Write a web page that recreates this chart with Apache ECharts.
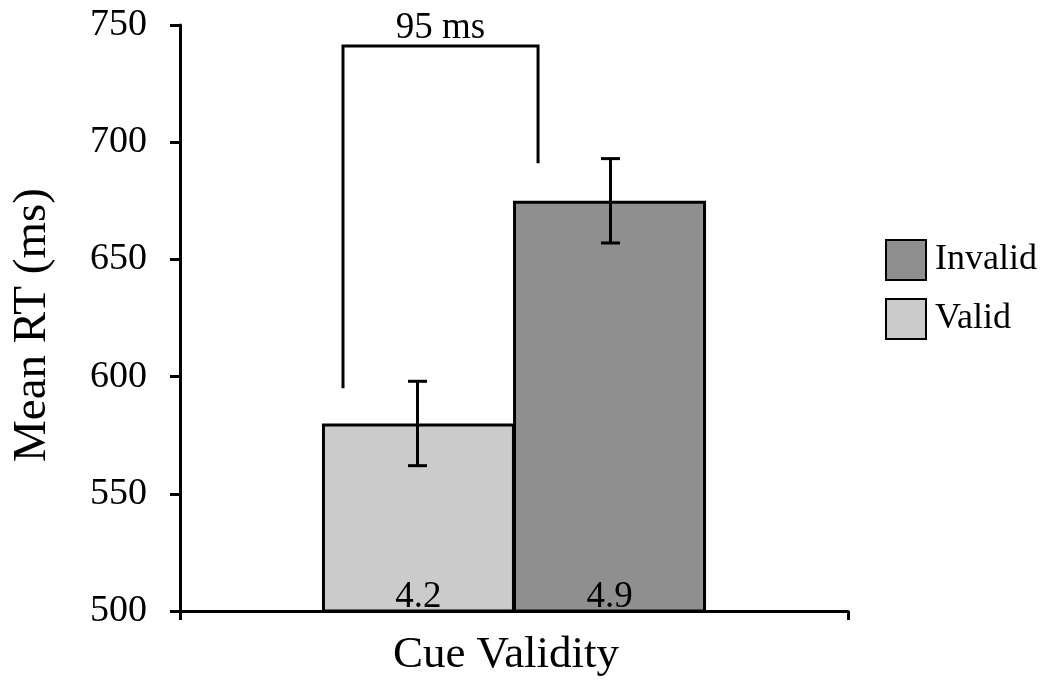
<!DOCTYPE html>
<html>
<head>
<meta charset="utf-8">
<script src="https://cdn.jsdelivr.net/npm/echarts@6/dist/echarts.min.js"></script>
<style>
html,body{margin:0;padding:0;background:#fff;}
#chart{width:1047px;height:683px;}
</style>
</head>
<body>
<div id="chart"></div>
<script>
// ---- data ----
const categories = ['Cue Validity'];
const seriesNames = ['Valid', 'Invalid'];
const validMean = [580];
const invalidMean = [675];
const validErr = [18];
const invalidErr = [18];
const barLabels = ['4.2', '4.9'];
const yTicks = [500, 550, 600, 650, 700, 750];
const bracketLeftEnd = 595;
const bracketRightEnd = 691;
const bracketTop = 741;
const bracketText = '95 ms';

// ---- style ----
const FONT = '"Liberation Serif", "Times New Roman", serif';
const BAR_W = 193;

const chart = echarts.init(document.getElementById('chart'));

function errorRender(side) {
  return function (params, api) {
    const x = api.coord([api.value(0), 0])[0] + side * BAR_W / 2;
    const top = api.coord([api.value(0), api.value(2)])[1];
    const bot = api.coord([api.value(0), api.value(1)])[1];
    const cap = 9.5;
    const st = { stroke: '#000', lineWidth: 3 };
    return {
      type: 'group',
      children: [
        { type: 'line', shape: { x1: x, y1: top, x2: x, y2: bot }, style: st },
        { type: 'line', shape: { x1: x - cap, y1: top, x2: x + cap, y2: top }, style: st },
        { type: 'line', shape: { x1: x - cap, y1: bot, x2: x + cap, y2: bot }, style: st }
      ]
    };
  };
}

function bracketRender(params, api) {
  const band = api.size([1, 0])[0];
  const cx = api.coord([0, 0])[0];
  const xl = cx - 0.256 * band;
  const xr = cx + 0.036 * band;
  const yl = api.coord([0, api.value(1)])[1];
  const yr = api.coord([0, api.value(2)])[1];
  const yt = api.coord([0, api.value(3)])[1];
  return {
    type: 'group',
    children: [
      { type: 'polyline', shape: { points: [[xl, yl], [xl, yt], [xr, yt], [xr, yr]] },
        style: { stroke: '#000', lineWidth: 3, fill: null } },
      { type: 'text', x: (xl + xr) / 2, y: yt + 1,
        style: { text: bracketText, font: '37px ' + FONT, fill: '#000', align: 'center', verticalAlign: 'bottom' } }
    ]
  };
}

const barItem = (color) => ({ color: color, borderColor: '#000', borderWidth: 3 });

chart.setOption({
  animation: false,
  grid: { left: 180, right: 199, top: 25, bottom: 72, containLabel: false },
  legend: {
    data: ['Invalid', 'Valid'],
    orient: 'vertical', left: 885, top: 239,
    itemWidth: 40, itemHeight: 40, itemGap: 17, icon: 'rect', padding: 0,
    textStyle: { fontFamily: FONT, fontSize: 36, color: '#000', padding: [0, 0, 0, 4] }
  },
  xAxis: {
    type: 'category', data: categories,
    axisLine: { lineStyle: { color: '#000', width: 3 } },
    axisTick: { show: true, length: 9, lineStyle: { color: '#000', width: 3 } },
    axisLabel: { fontFamily: FONT, fontSize: 45, color: '#000', margin: 22, padding: [0, 16, 0, 0] }
  },
  yAxis: {
    type: 'value', min: yTicks[0], max: yTicks[yTicks.length - 1], interval: 50,
    name: 'Mean RT (ms)', nameLocation: 'middle', nameGap: 124,
    nameTextStyle: { fontFamily: FONT, fontSize: 47, color: '#000', padding: [0, 14, 0, 0] },
    axisLine: { show: true, lineStyle: { color: '#000', width: 3 } },
    axisTick: { show: true, length: 10, lineStyle: { color: '#000', width: 3 } },
    axisLabel: { fontFamily: FONT, fontSize: 38, color: '#000', margin: 33 },
    splitLine: { show: false }
  },
  series: [
    {
      name: seriesNames[0], type: 'bar', data: validMean, barWidth: BAR_W, barGap: '-1%',
      itemStyle: barItem('#cbcbcb'),
      label: { show: true, position: 'insideBottom', distance: -3, formatter: () => barLabels[0],
        fontFamily: FONT, fontSize: 37, color: '#000' }
    },
    {
      name: seriesNames[1], type: 'bar', data: invalidMean, barWidth: BAR_W, barGap: '-1%',
      itemStyle: barItem('#8f8f8f'),
      label: { show: true, position: 'insideBottom', distance: -3, formatter: () => barLabels[1],
        fontFamily: FONT, fontSize: 37, color: '#000' }
    },
    {
      type: 'custom', z: 5, silent: true,
      data: validMean.map((m, i) => [i, m - validErr[i], m + validErr[i]]),
      renderItem: errorRender(-1)
    },
    {
      type: 'custom', z: 5, silent: true,
      data: invalidMean.map((m, i) => [i, m - invalidErr[i], m + invalidErr[i]]),
      renderItem: errorRender(1)
    },
    {
      type: 'custom', z: 5, silent: true, clip: false,
      data: [[0, bracketLeftEnd, bracketRightEnd, bracketTop]],
      renderItem: bracketRender
    }
  ]
});
</script>
</body>
</html>
